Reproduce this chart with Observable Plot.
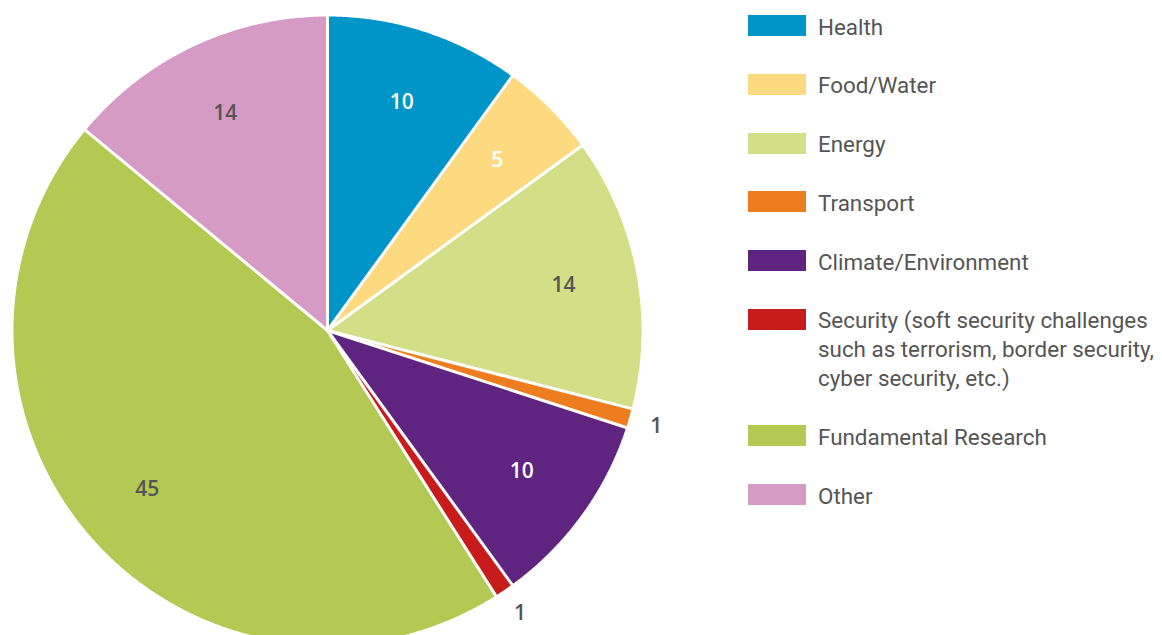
<!DOCTYPE html>
<html>
<head>
<meta charset="utf-8">
<script src="https://cdn.jsdelivr.net/npm/d3@7"></script>
<script src="https://cdn.jsdelivr.net/npm/@observablehq/plot@0.6"></script>
<style>
  html, body { margin: 0; padding: 0; background: #fff; }
  #wrap { position: relative; width: 1162px; height: 635px; overflow: hidden; }
  #legend { position: absolute; left: 748px; top: 12.8px; font-family: Roboto, sans-serif; font-size: 22.4px; color: #555; white-space: nowrap; }
  .item { display: flex; align-items: flex-start; margin-bottom: 29.7px; }
  .sw { width: 58px; height: 21px; margin-top: 2.5px; flex: none; }
  .lab { margin-left: 12px; line-height: 29px; }
</style>
</head>
<body>
<div id="wrap"><div id="chart"></div><div id="legend"></div></div>
<script>
const categories = ["Health", "Food/Water", "Energy", "Transport", "Climate/Environment", "Security", "Fundamental Research", "Other"];
const values = [10, 5, 14, 1, 10, 1, 45, 14];
const legendLabels = ["Health", "Food/Water", "Energy", "Transport", "Climate/Environment",
  "Security (soft security challenges<br>such as terrorism, border security,<br>cyber security, etc.)",
  "Fundamental Research", "Other"];
const colors = ["#0095C8", "#FDDA80", "#D2DF86", "#EE7D1F", "#5F2480", "#C81C1C", "#B3C954", "#D59BC4"];
const darkLabelCats = ["Energy", "Fundamental Research", "Other"];

const total = d3.sum(values);
let cum = 0;
const slices = categories.map((c, i) => {
  const a0 = cum / total * 2 * Math.PI;
  cum += values[i];
  const a1 = cum / total * 2 * Math.PI;
  return {category: c, value: values[i], a0, a1, mid: (a0 + a1) / 2};
});

const pts = [];
for (const s of slices) {
  pts.push({category: s.category, x: 0, y: 0});
  const n = Math.max(2, Math.ceil((s.a1 - s.a0) / 0.005));
  for (let k = 0; k <= n; k++) {
    const a = s.a0 + (s.a1 - s.a0) * k / n;
    pts.push({category: s.category, x: Math.sin(a), y: Math.cos(a)});
  }
}

const labels = slices.map(s => {
  const rr = s.value <= 1 ? 1.09 : 0.765;
  return {
    category: s.category, value: s.value,
    x: rr * Math.sin(s.mid), y: rr * Math.cos(s.mid),
    ink: s.value <= 1 || darkLabelCats.includes(s.category) ? "#555" : "#fff"
  };
});

const cx = 327, cy = 330, r = 314;
const plot = Plot.plot({
  width: 1162, height: 635,
  margin: 0,
  x: {domain: [-1, 1], range: [cx - r, cx + r], axis: null},
  y: {domain: [-1, 1], range: [cy + r, cy - r], axis: null},
  color: {domain: categories, range: colors},
  marks: [
    Plot.line(pts, {x: "x", y: "y", z: "category", fill: "category", stroke: "none", curve: "linear-closed"}),
    Plot.link(slices, {x1: 0, y1: 0, x2: d => Math.sin(d.a0), y2: d => Math.cos(d.a0), stroke: "#fff", strokeWidth: 3}),
    Plot.text(labels, {x: "x", y: "y", text: d => String(d.value), fill: "ink",
      fontFamily: "'Open Sans', sans-serif", fontWeight: 600, fontSize: 21})
  ]
});
document.getElementById("chart").appendChild(plot);

const legend = document.getElementById("legend");
categories.forEach((c, i) => {
  const it = document.createElement("div");
  it.className = "item";
  it.innerHTML = `<div class="sw" style="background:${colors[i]}"></div><div class="lab">${legendLabels[i]}</div>`;
  legend.appendChild(it);
});
</script>
</body>
</html>
